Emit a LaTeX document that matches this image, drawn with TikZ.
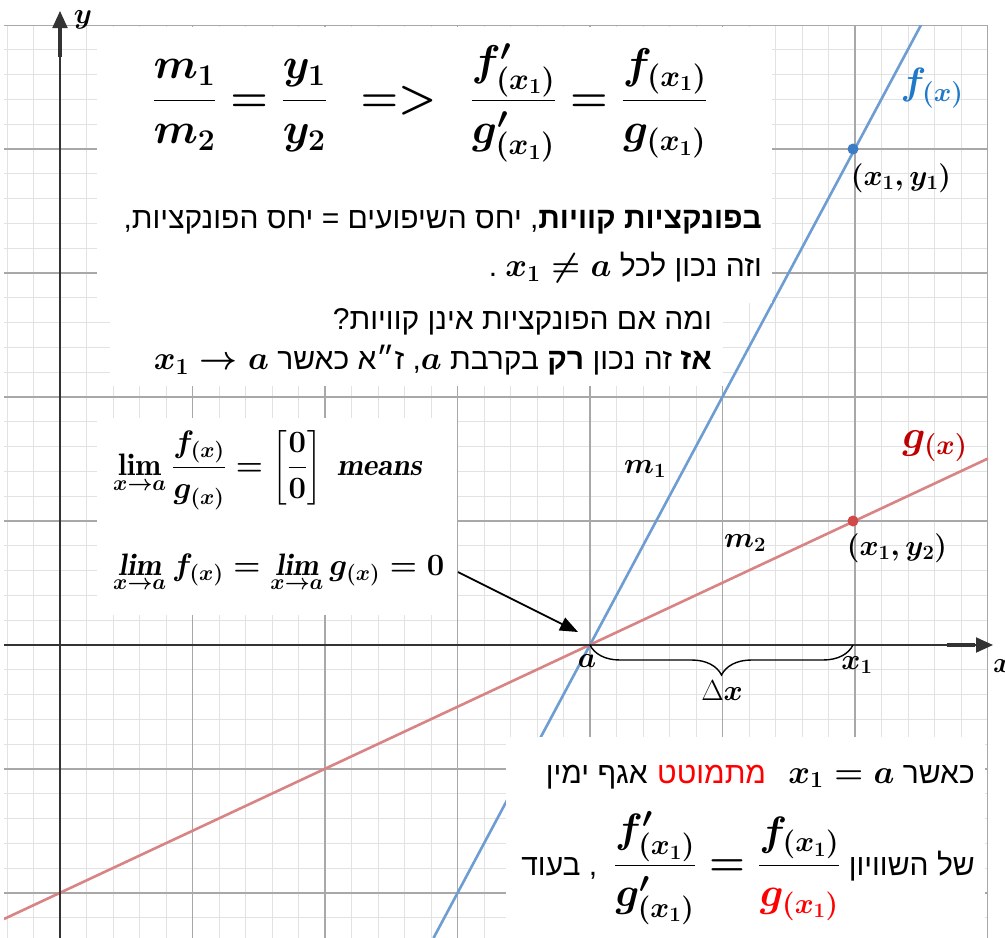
\RequirePackage{fix-cm}
\documentclass[tikz,border=0pt]{standalone}
\usepackage{amsmath,bm}
\usepackage{fontspec}
\usetikzlibrary{arrows.meta,decorations.pathreplacing}
\newfontfamily\hebfont[Script=Hebrew]{Liberation Sans}
\TeXXeTstate=1
\definecolor{gridminor}{HTML}{E2E2E2}
\definecolor{gridmajor}{HTML}{A8A8A8}
\definecolor{axiscol}{HTML}{333333}
\definecolor{fline}{HTML}{6D9DD2}
\definecolor{gline}{HTML}{D98484}
\definecolor{fdot}{HTML}{3C7BC6}
\definecolor{gdot}{HTML}{D04A4A}
\definecolor{flabel}{HTML}{1F78C8}
\definecolor{glabel}{HTML}{C00000}
\newcommand{\bmath}[1]{{\boldmath$#1$}}
\newcommand{\hmath}[1]{{\fontsize{33}{36}\selectfont\boldmath$#1$}}
\newcommand{\fp}{f^{\prime}_{(x_1)}}
\newcommand{\gp}{g^{\prime}_{(x_1)}}
\newcommand{\TopEq}{{\boldmath$\dfrac{m_1}{m_2}=\dfrac{y_1}{y_2}\hspace{20pt}\mathrel{=}\mathrel{>}\hspace{20pt}\dfrac{\fp}{\gp}=\dfrac{f_{(x_1)}}{g_{(x_1)}}$}}
\newcommand{\LimA}{{\boldmath$\displaystyle\lim_{x\to a}\frac{f_{(x)}}{g_{(x)}}=\left[\frac{0}{0}\right]\ \mathit{means}$}}
\newcommand{\LimB}{{\boldmath$\displaystyle\mathop{\mathit{lim}}_{x\to a}f_{(x)}=\mathop{\mathit{lim}}_{x\to a}g_{(x)}=0$}}
\newcommand{\BotEq}{{\fontsize{41}{46}\selectfont\boldmath$\dfrac{\fp}{\gp}=\dfrac{f_{(x_1)}}{\color{red}g_{(x_1)}}$}}
\begin{document}
\begin{tikzpicture}[x=1pt,y=-1pt,
  minor/.style={draw=gridminor,line width=1pt},
  major/.style={draw=gridmajor,line width=1.2pt},
  whitebox/.style={fill=white,draw=none},
  heb/.style={inner sep=0pt,font=\hebfont\fontsize{30}{34}\selectfont},
  lbl/.style={inner sep=0pt,font=\fontsize{29}{34}\selectfont},
  axis/.style={draw=axiscol,line width=2pt},
  dot/.style={circle,inner sep=0pt,minimum size=11pt}]
\useasboundingbox (0,0) rectangle (1005,938);
\fill[white] (0,0) rectangle (1005,938);
% grid
\begin{scope}
\clip (4,25) rectangle (988,938);
\foreach \k in {-2,...,35} {\pgfmathsetmacro\xx{60+26.5*\k}\draw[minor] (\xx,25) -- (\xx,938);}
\foreach \j in {-25,...,11} {\pgfmathsetmacro\yy{645+24.8*\j}\draw[minor] (4,\yy) -- (988,\yy);}
\foreach \k in {0,5,...,35} {\pgfmathsetmacro\xx{60+26.5*\k}\draw[major] (\xx,25) -- (\xx,938);}
\foreach \j in {-25,-20,...,10} {\pgfmathsetmacro\yy{645+24.8*\j}\draw[major] (4,\yy) -- (988,\yy);}
\coordinate (fa) at (433.5,938);
\coordinate (fb) at (921,25);
\coordinate (ga) at (4,919);
\coordinate (gb) at (988,458.5);
\draw[fline,line width=2.6pt] (fa) -- (fb);
\draw[gline,line width=2.6pt] (ga) -- (gb);
\end{scope}
% white boxes
\fill[whitebox] (97,27) rectangle (772,303);
\fill[whitebox] (110,303) rectangle (723,386);
\fill[whitebox] (97,418) rectangle (457,615);
\fill[whitebox] (506,737) rectangle (985,938);
% axes
\coordinate (O) at (590,645);
\coordinate (xl) at (4,645);
\coordinate (xr) at (993,645);
\coordinate (yb) at (60,938);
\coordinate (yt) at (60,11);
\draw[axis,-{Triangle[length=17pt,width=15pt]}] (xl) -- (xr);
\draw[axis,line width=3.2pt] (947,645) -- (975,645);
\draw[axis,-{Triangle[length=17pt,width=15pt]}] (yb) -- (yt);
\draw[axis,line width=3.2pt] (60,57) -- (60,28);
\node[lbl] (ylab) at (83,20) {\bmath{y}};
\node[lbl,anchor=west] (xlab) at (993,666) {\bmath{x}};
% points
\node[dot,fill=fdot] (P1) at (853,149) {};
\node[dot,fill=gdot] (P2) at (853,521) {};
\coordinate (X1) at (853,645);
% labels
\node[lbl,font=\fontsize{38}{42}\selectfont,text=flabel] (flab) at (932,88) {\bmath{f_{(x)}}};
\node[lbl,font=\fontsize{40}{44}\selectfont,text=glabel] (glab) at (935,446) {\bmath{g_{(x)}}};
\node[lbl] (p1lab) at (901,178) {\bmath{(x_1,y_1)}};
\node[lbl] (p2lab) at (897,548) {\bmath{(x_1,y_2)}};
\node[lbl] (m1) at (645,469) {\bmath{m_1}};
\node[lbl] (m2) at (745,543) {\bmath{m_2}};
\node[lbl] (alab) at (587,661) {\bmath{a}};
\node[lbl] (x1lab) at (857,665) {\bmath{x_1}};
% brace
\draw[decorate,decoration={brace,mirror,amplitude=30pt},line width=1.4pt] (O) -- (X1);
\node[lbl] (dx) at (722,691) {$\Delta\bm{x}$};
% arrow
\coordinate (arrs) at (458,572);
\coordinate (arrt) at (578,632);
\draw[line width=1.8pt,-{Triangle[length=18pt,width=14pt]}] (arrs) -- (arrt);
% top equation
\node[inner sep=0pt,font=\fontsize{43}{50}\selectfont] (topeq) at (430,103) {\TopEq};
% hebrew lines
\node[heb,anchor=east] (h1) at (762,222) {\beginR\textbf{בפונקציות קוויות}, יחס השיפועים = יחס הפונקציות,\endR};
\node[heb,anchor=east] (h2) at (762,268) {\beginR וזה נכון לכל \beginL\hmath{x_1\neq a}\endL\ .\endR};
\node[heb,anchor=east] (h3) at (712,322) {\beginR ומה אם הפונקציות אינן קוויות?\endR};
\node[heb,anchor=east] (h4) at (712,360) {\beginR\textbf{אז} זה נכון \textbf{רק} בקרבת \hmath{a}, ז״א כאשר \beginL\hmath{x_1\to a}\endL\endR};
% limit box
\node[inner sep=0pt,anchor=west,font=\fontsize{31}{36}\selectfont] (lim1) at (113,470) {\LimA};
\node[inner sep=0pt,anchor=west,font=\fontsize{31}{36}\selectfont] (lim2) at (113,573) {\LimB};
% bottom box
\node[heb,anchor=base east] (b1a) at (975,783) {\beginR כאשר \beginL\hmath{x_1=a}\endL\endR};
\node[heb,anchor=base east,text=red] (b1b) at ([xshift=-22pt]b1a.base west) {\beginR מתמוטט\endR};
\node[heb,anchor=base east] (b1c) at ([xshift=-9pt]b1b.base west) {\beginR אגף ימין\endR};
\node[heb,anchor=east] (b2) at (975,868) {\beginR של השוויון \beginL\BotEq\endL\ \ , בעוד\endR};
\end{tikzpicture}
\end{document}
